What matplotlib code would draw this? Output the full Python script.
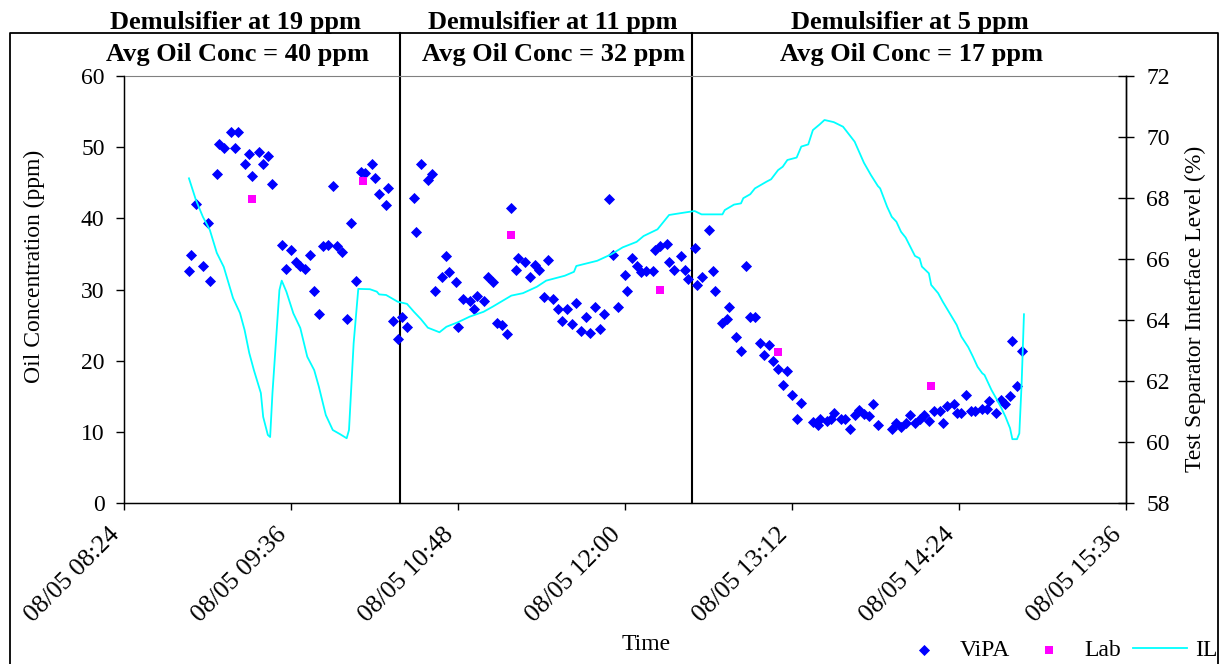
import matplotlib
matplotlib.use("Agg")
import matplotlib.pyplot as plt
import matplotlib.dates as mdates
from matplotlib.lines import Line2D
import pandas as pd

plt.rcParams['font.family'] = ['Liberation Serif', 'DejaVu Serif']

day = "2003-08-05 "

# ViPA online oil-in-water readings (ppm)
vipa_time = ["08:52","08:53","08:55","08:58","09:00","09:01","09:04","09:05","09:07","09:10",
             "09:12","09:13","09:16","09:18","09:19","09:22","09:24","09:26","09:28","09:32",
             "09:34","09:36","09:38","09:40","09:42","09:44","09:46","09:48","09:50","09:52",
             "09:54","09:56","09:58","10:00","10:02","10:04","10:06","10:08","10:11","10:12",
             "10:14","10:17","10:18","10:20","10:22","10:24","10:26","10:29","10:30","10:32",
             "10:35","10:37","10:38","10:41","10:43","10:44","10:47","10:48","10:50","10:53",
             "10:55","10:56","10:59","11:01","11:03","11:05","11:07","11:09","11:11","11:13",
             "11:14","11:17","11:19","11:21","11:23","11:25","11:27","11:29","11:31","11:33",
             "11:35","11:37","11:39","11:41","11:43","11:45","11:47","11:49","11:51","11:53",
             "11:55","11:57","12:00","12:01","12:03","12:05","12:07","12:09","12:12","12:13",
             "12:15","12:18","12:19","12:21","12:24","12:26","12:27","12:30","12:31","12:33",
             "12:36","12:38","12:39","12:42","12:44","12:45","12:48","12:50","12:52","12:54",
             "12:56","12:58","13:00","13:02","13:04","13:06","13:08","13:10","13:12","13:14",
             "13:16","13:21","13:23","13:24","13:27","13:29","13:30","13:33","13:35","13:37",
             "13:39","13:41","13:43","13:45","13:47","13:49","13:55","13:57","13:59","14:01",
             "14:03","14:05","14:07","14:09","14:11","14:13","14:16","14:17","14:19","14:22",
             "14:23","14:25","14:27","14:29","14:31","14:34","14:36","14:37","14:40","14:42",
             "14:44","14:46","14:47","14:49","14:51"]
vipa_oil = [32.6,34.9,42.0,33.3,39.4,31.2,46.2,50.4,49.8,52.1,
            49.8,52.1,47.6,49.0,45.9,49.3,47.6,48.7,44.8,36.3,
            32.9,35.5,33.8,33.3,32.9,34.9,29.8,26.5,36.1,36.3,
            44.5,36.1,35.2,25.9,39.4,31.2,46.5,46.3,47.6,45.6,
            43.4,41.9,44.2,25.6,23.1,26.2,24.8,42.8,38.0,47.6,
            45.3,46.2,29.8,31.8,34.7,32.4,31.0,24.8,28.7,28.4,
            27.3,29.1,28.4,31.7,31.0,25.3,25.0,23.7,41.4,32.7,
            34.4,33.8,31.8,33.5,32.7,29.0,34.1,28.7,27.3,25.6,
            27.3,25.1,28.1,24.2,26.2,23.9,27.6,24.5,26.5,42.7,
            34.9,27.6,32.1,29.8,34.4,33.3,32.4,32.6,32.6,35.5,
            36.1,36.4,33.8,32.7,34.7,32.7,31.5,35.8,30.7,31.8,
            38.3,32.6,29.8,25.3,25.9,27.6,23.4,21.4,33.3,26.2,
            26.2,22.5,20.8,22.2,20.0,18.9,16.6,18.6,15.2,11.8,
            14.1,11.4,11.0,11.9,11.6,11.9,12.7,11.9,11.8,10.4,
            12.4,13.1,12.5,12.2,13.9,11.0,10.4,11.3,10.7,11.3,
            12.4,11.3,11.9,12.4,11.6,12.9,12.9,11.3,13.6,13.9,
            12.7,12.7,15.2,12.9,12.9,13.3,13.3,14.4,12.7,14.5,
            13.9,15.0,22.8,16.4,21.4]

# lab samples (ppm)
lab_time = ["09:19", "10:07", "11:11", "12:15", "13:06", "14:12"]
lab_oil = [42.7, 45.2, 37.6, 30.0, 21.3, 16.5]

# interface level (%)
il_time = ["08:52","08:55","08:58","09:01","09:04","09:07","09:11","09:14","09:16","09:18",
           "09:20","09:23","09:24","09:26","09:27","09:28","09:31","09:32","09:34","09:37",
           "09:40","09:43","09:46","09:48","09:51","09:54","09:57","10:00","10:01","10:03",
           "10:05","10:10","10:13","10:14","10:17","10:22","10:26","10:29","10:32","10:35",
           "10:40","10:43","10:48","10:53","10:59","11:03","11:11","11:16","11:22","11:26",
           "11:34","11:38","11:39","11:48","11:54","11:59","12:05","12:08","12:14","12:19",
           "12:24","12:30","12:33","12:42","12:43","12:47","12:50","12:51","12:54","12:56",
           "13:01","13:03","13:06","13:08","13:10","13:14","13:16","13:19","13:21","13:24",
           "13:26","13:30","13:34","13:39","13:43","13:46","13:49","13:50","13:53","13:55",
           "13:57","13:59","14:01","14:03","14:05","14:07","14:08","14:11","14:12","14:15",
           "14:17","14:20","14:23","14:25","14:28","14:30","14:32","14:34","14:35","14:38",
           "14:40","14:42","14:44","14:46","14:47","14:49","14:50","14:51","14:52"]
il_level = [68.64,67.93,67.38,66.95,66.20,65.74,64.72,64.23,63.67,62.92,
            62.36,61.61,60.83,60.24,60.17,61.61,64.98,65.29,64.93,64.22,
            63.74,62.80,62.36,61.82,60.89,60.40,60.27,60.13,60.40,63.24,
            65.02,65.01,64.93,64.84,64.82,64.60,64.53,64.27,64.03,63.75,
            63.60,63.78,63.93,64.11,64.27,64.44,64.80,64.88,65.09,65.29,
            65.45,65.58,65.77,65.94,66.15,66.38,66.56,66.75,66.97,67.44,
            67.50,67.57,67.46,67.46,67.60,67.78,67.82,67.99,68.12,68.31,
            68.53,68.61,68.91,69.02,69.24,69.32,69.68,69.75,70.22,70.41,
            70.55,70.48,70.33,69.84,69.15,68.75,68.39,68.31,67.71,67.38,
            67.22,66.89,66.70,66.40,66.10,66.02,65.75,65.53,65.15,64.88,
            64.60,64.22,63.84,63.46,63.11,62.80,62.47,62.26,62.20,61.71,
            61.44,61.16,60.84,60.46,60.10,60.10,60.29,61.93,64.19]

# demulsifier dose changes
change_time = ["10:23", "12:29"]
dose_text = ["Demulsifier at 19 ppm", "Demulsifier at 11 ppm", "Demulsifier at 5 ppm"]
avg_text = ["Avg Oil Conc = 40 ppm", "Avg Oil Conc = 32 ppm", "Avg Oil Conc = 17 ppm"]

def dt(lst):
    return pd.to_datetime([day + t for t in lst])

fig = plt.figure(figsize=(12.23, 6.64), dpi=100)
ax = fig.add_axes([0.1014, 0.242, 0.8193, 0.644])
ax2 = ax.twinx()

ax.scatter(dt(vipa_time), vipa_oil, marker='D', s=32, color='#0000FF', linewidths=0, label='ViPA', zorder=3)
ax.scatter(dt(lab_time), lab_oil, marker='s', s=40, color='#FF00FF', linewidths=0, label='Lab', zorder=3)
ax2.plot(dt(il_time), il_level, color='#00FFFF', lw=1.3, label='IL')

for t in dt(change_time):
    ax.axvline(t, ymin=0, ymax=1.10, color='black', lw=1.5, clip_on=False)

start = pd.Timestamp(day + "08:24")
end = pd.Timestamp(day + "15:36")
ax.set_xlim(start, end)
ax.set_xticks(pd.date_range(start, end, freq='72min'))
ax.xaxis.set_major_formatter(mdates.DateFormatter('%m/%d %H:%M'))
ax.set_ylim(0, 60)
ax.set_yticks(range(0, 61, 10))
ax2.set_ylim(58, 72)
ax2.set_yticks(range(58, 73, 2))

ax.tick_params(axis='y', direction='out', length=6, width=1, pad=8, labelsize=17)
ax.tick_params(axis='x', direction='out', length=5, width=1, pad=21, labelsize=18.5)
ax2.tick_params(axis='y', direction='inout', length=11, width=1, pad=9, labelsize=17)
plt.setp(ax.get_xticklabels(), rotation=45, ha='right', va='bottom', rotation_mode='anchor')

ax.spines['top'].set_color('#808080')
ax2.spines['top'].set_visible(False)
for s in ['left', 'bottom', 'right']:
    ax.spines[s].set_linewidth(1)
ax2.spines['right'].set_linewidth(1)

ax.set_xlabel('Time', fontsize=17, va='center')
ax.xaxis.set_label_coords(0.521, -0.331)
ax.set_ylabel('Oil Concentration (ppm)', fontsize=17, va='center')
ax.yaxis.set_label_coords(-0.089, 0.553)
ax2.set_ylabel('Test Separator Interface Level (%)', fontsize=17, va='center', rotation=90)
ax2.yaxis.set_label_coords(1.069, 0.455)

# headings over the three dose periods
for xc, a in zip([236, 553, 910], dose_text):
    fig.text(xc / 1223, 1 - 22 / 664, a, ha='center', va='center', fontsize=19, fontweight='bold')
for xc, b in zip([238, 554, 912], avg_text):
    fig.text(xc / 1223, 1 - 55 / 664, b, ha='center', va='center', fontsize=19, fontweight='bold')

# outer chart frame
fx0, fx1, fy = 10 / 1223, 1218 / 1223, 1 - 33 / 664
fig.add_artist(Line2D([fx0, fx0, fx1, fx1], [-0.1, fy, fy, -0.1], transform=fig.transFigure,
                      color='black', lw=1.3))

h1, l1 = ax.get_legend_handles_labels()
h2, l2 = ax2.get_legend_handles_labels()
fig.legend(h1 + h2, l1 + l2, loc='center left', bbox_to_anchor=(897 / 1223, 1 - 650 / 664),
           ncol=3, frameon=False, fontsize=17, borderpad=0, borderaxespad=0,
           handlelength=2.3, handletextpad=0.35, columnspacing=0.5, scatterpoints=1)

fig.savefig('out.png', dpi=100)
